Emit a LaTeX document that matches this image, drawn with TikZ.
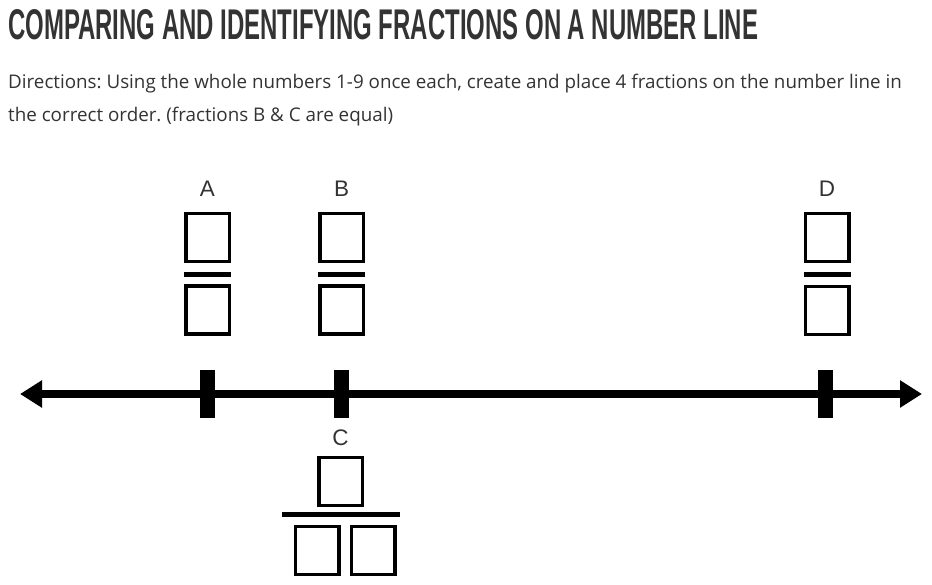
\documentclass[tikz,border=0pt]{standalone}
\usepackage{fontspec}
\setmainfont{Open Sans}
\newfontfamily\headfont{Liberation Sans}
\newfontfamily\lblfont{Liberation Sans}
\usepackage{graphicx}
\usetikzlibrary{positioning,arrows.meta}
\definecolor{inkgray}{HTML}{333333}
\frenchspacing

\begin{document}
\begin{tikzpicture}[x=1pt, y=-1pt,
  lbl/.style={font=\lblfont\fontsize{22.5}{22.5}\selectfont, text=inkgray, inner sep=0pt},
  numbox/.style={draw=black, line width=3.5pt, inner sep=0pt, minimum width=43.5pt, minimum height=48pt},
  fracbar/.style={fill=black, inner sep=0pt, minimum width=47pt, minimum height=5pt},
  tickmark/.style={fill=black, inner sep=0pt, minimum width=15pt, minimum height=48pt},
  dirtext/.style={font=\fontsize{18.8}{18.8}\selectfont, text=inkgray, anchor=west, inner sep=0pt}
]
\useasboundingbox (0,0) rectangle (932,584);

% heading and directions
\node[anchor=west, inner sep=0pt, text=inkgray] (title) at (8,25)
  {\resizebox{750pt}{30pt}{\headfont\bfseries COMPARING AND IDENTIFYING FRACTIONS ON A NUMBER LINE}};
\node[dirtext] (dir1) at (8,84) {Directions: Using the whole numbers 1-9 once each, create and place 4 fractions on the number line in};
\node[dirtext] (dir2) at (8,117) {the correct order. (fractions B \& C are equal)};

% number line
\coordinate (lend) at (20,394);
\coordinate (rend) at (922,394);
\draw[line width=8pt, {Triangle[length=22pt,width=26pt]}-{Triangle[length=22pt,width=26pt]}] (lend) -- (rend);
\node[tickmark] (tA) at (207.5,394) {};
\node[tickmark] (tB) at (341,394) {};
\node[tickmark] (tD) at (825.5,394) {};

% fraction A
\node[lbl] (lA) at (207.5,189) {A};
\node[numbox] (nA) at (207.5,237.5) {};
\node[fracbar] (bA) at (207.5,274.5) {};
\node[numbox] (dA) at (207.5,310) {};

% fraction B
\node[lbl] (lB) at (341.5,189) {B};
\node[numbox] (nB) at (341.5,237.5) {};
\node[fracbar] (bB) at (341.5,274.5) {};
\node[numbox] (dB) at (341.5,310) {};

% fraction D
\node[lbl] (lD) at (827,189) {D};
\node[numbox] (nD) at (827,237.5) {};
\node[fracbar] (bD) at (827,274.5) {};
\node[numbox] (dD) at (827,310.5) {};

% fraction C
\node[lbl] (lC) at (340.5,438) {C};
\node[numbox] (nC) at (340.5,481.5) {};
\node[fracbar, minimum width=118pt] (bC) at (341,514.5) {};
\node[numbox] (dC1) at (317,550.5) {};
\node[numbox] (dC2) at (373,550.5) {};

\end{tikzpicture}
\end{document}
